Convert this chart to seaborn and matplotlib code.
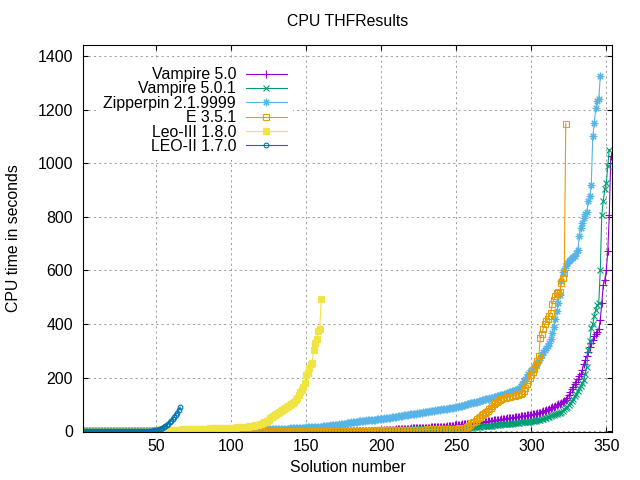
import numpy as np
import pandas as pd
import matplotlib
matplotlib.use("Agg")
import matplotlib.pyplot as plt
import seaborn as sns

# ---------------- data (sorted CPU times) ----------------
labels = ["Vampire 5.0", "Vampire 5.0.1", "Zipperpin 2.1.9999", "E 3.5.1",
          "Leo-III 1.8.0", "LEO-II 1.7.0"]

vampire50 = ([0.1] * 50 + [0.3] * 50 + [0.8] * 40 + [1.5] * 30 + [3] * 30 +
             [3, 3.5, 4, 4.5, 5, 5, 5.5, 6, 6.5, 7, 7, 7.5, 8, 8.5, 9, 9, 9.5, 10, 10, 10.5,
              11, 11, 11.5, 12, 12, 12.5, 13, 13, 13.5, 14, 14, 14, 14.5, 14.5, 15, 15, 15, 15.5, 15.5, 16] +
             [16, 17, 17, 18, 19, 20, 20, 21, 22, 23, 23, 24, 25, 26, 26, 27, 28, 29, 29, 30,
              30, 31, 31, 32, 32, 33] +
             [34, 35, 36, 36, 37, 38, 39, 40, 41, 41, 42, 43, 44, 45] +
             [46, 47, 47, 48, 49, 50, 51, 51, 52, 53, 54, 55, 56, 56, 57, 58, 59, 60, 61, 62] +
             [63, 64, 66, 67, 68, 70, 72, 74, 76, 78, 80, 83, 86, 89, 92, 95, 98, 101, 103, 105] +
             [108, 112, 118, 125, 135, 148, 157, 166, 175, 185, 195, 205, 212, 230, 250, 266,
              280, 297, 315, 330, 341, 355, 362, 372, 380, 416, 478, 547, 565, 600, 671, 808, 1026])

vampire501 = ([0.1] * 50 + [0.2] * 50 + [0.5] * 40 + [1] * 30 + [2] * 30 +
              [2.5, 2.7, 3, 3.2, 3.4, 3.6, 3.8, 4, 4.2, 4.4, 4.6, 4.8, 5, 5.2, 5.4, 5.6, 5.8, 6, 6.2, 6.4,
               6.6, 6.8, 7, 7.2, 7.4, 7.6, 7.8, 8, 8.2, 8.4, 8.6, 8.8, 9, 9.2, 9.4, 9.6, 9.8, 10, 10.2, 10.4,
               10.6, 10.8, 11, 11.2, 11.4, 11.6, 11.8, 12, 12.2, 12.4, 12.6, 12.8, 13, 13.2, 13.4, 13.6,
               13.8, 14, 14.2, 14.5] +
              [15, 15, 16, 16, 17, 17, 18, 18, 19, 19, 20, 20, 21, 21, 22, 23, 24, 24, 25, 26] +
              [26, 27, 27, 28, 28, 29, 29, 30, 30, 31, 31, 32, 33, 33, 34, 35, 35, 36, 36, 37] +
              [38, 39, 40, 41, 42, 43, 45, 47, 49, 51, 53, 55, 57, 59] +
              [61, 63, 66, 68, 70, 73, 77, 82, 87, 92, 98, 105, 112, 120, 130, 140, 150, 160, 170, 180,
               191, 215, 241, 303, 335, 385, 400, 430, 453, 470, 478, 603, 808, 860, 902, 927, 990, 1051])

zipperpin = ([0.1] * 30 + [0.4] * 30 + [1] * 20 + [2] * 20 +
             [3, 3, 3.2, 3.4, 3.6, 3.8, 4, 4.2, 4.4, 4.6, 4.8, 5, 5.2, 5.4, 5.6, 5.8, 6, 6.2, 6.4, 6.6,
              6.8, 7, 7.2, 7.3, 7.4, 7.5, 7.6, 7.7, 7.8, 7.9] +
             [8, 8.3, 8.6, 9, 9.3, 9.6, 10, 10.3, 10.6, 11, 11.3, 11.6, 12, 12.3, 12.6, 13, 13.3, 13.6,
              14, 14.3, 14.6, 15, 15.3, 15.6, 16, 16.3, 16.6, 17, 17.3, 17.6] +
             [18, 19, 19, 20, 21, 22, 22, 23, 24, 25, 25, 26, 27, 28, 29, 29, 30, 31, 32, 33,
              33, 34, 35, 36, 37, 37, 38, 39, 40, 41, 41, 42, 43, 43, 44, 44, 45, 45, 46, 46] +
             [47, 48, 49, 49, 50, 51, 52, 53, 54, 55, 56, 56, 57, 58, 59, 60, 61, 62, 63, 64,
              64, 65, 66, 67, 68, 69, 70, 71, 72, 73, 73, 74, 75, 76, 77, 78, 79, 80, 81, 82,
              82, 83, 84, 85, 86, 87, 87, 88, 89, 90] +
             [92, 93, 95, 96, 98, 99, 101, 102, 104, 105, 107, 108, 110, 111, 113, 114, 116, 117, 119, 120,
              122, 123, 125, 126, 128, 129, 131, 132, 134, 135] +
             [137, 139, 141, 143, 145, 147, 149, 151, 153, 154] +
             [155, 162, 170, 178, 186, 195, 204, 213, 222, 228, 234, 240, 246, 255, 265, 275, 285, 295,
              303, 312, 320, 330, 345, 365, 390, 420, 447, 480, 509, 560, 596, 603, 615, 628, 634, 640,
              645, 650, 655, 665, 677, 727, 760, 777, 795, 810, 818, 860, 877, 920, 1101, 1151, 1207,
              1232, 1238, 1325])

e351 = ([0.1] * 40 + [0.3] * 40 + [0.6] * 40 + [1.2] * 30 + [2] * 25 + [3] * 20 + [4] * 20 +
        [4.5, 4.6, 4.7, 4.8, 4.9, 5, 5.1, 5.2, 5.4, 5.6, 5.8, 6, 6.2, 6.4, 6.6, 6.8, 7, 7.1, 7.2, 7.3,
         7.4, 7.5, 7.6, 7.8, 8] +
        [8.2, 8.4, 8.6, 8.8, 9, 9.2, 9.4, 9.6, 9.8, 10, 10.3, 10.6, 10.9, 11.2, 11.5, 12] +
        [15, 20, 25, 30, 33, 35, 38, 45, 50, 55, 60, 64, 68, 72, 77, 82, 88, 95, 100, 104,
         108, 112, 116, 120, 123, 125, 126, 127, 128, 129, 130, 132, 133, 134, 136, 138, 140, 143, 150, 160,
         175, 190, 200, 210, 222, 232, 247, 262, 281, 349, 363, 382, 400, 410, 419, 430, 443, 475, 490, 505,
         517, 518, 520, 553, 570, 589, 1148])

leo3 = ([0.1] * 10 + [0.2] * 10 +
        [0.3, 0.3, 0.4, 0.4, 0.5, 0.5, 0.6, 0.6, 0.7, 0.7, 0.8, 0.8, 0.9, 0.9, 1.0, 1.0, 1.1, 1.2, 1.3, 1.4] +
        [1.5, 1.7, 1.9, 2.1, 2.3, 2.5, 2.7, 2.9, 3.1, 3.3, 3.5, 3.7, 3.9, 4.1, 4.3, 4.5, 4.7, 4.9, 5.1, 5.3] +
        [5.5, 5.7, 5.9, 6.1, 6.3, 6.5, 6.7, 6.9, 7.1, 7.3, 7.5, 7.7, 7.9, 8.1, 8.3, 8.5, 8.7, 8.9, 9.1, 9.3] +
        [9.5, 9.7, 9.9, 10.1, 10.3, 10.5, 10.7, 10.9, 11.1, 11.3, 11.5, 11.7, 11.9, 12.1, 12.3, 12.5,
         12.7, 12.9, 13.1, 13.3] +
        [13.5, 13.8, 14.1, 14.4, 14.7, 15, 15.5, 16, 16.5, 17, 17.5, 18, 19, 20, 21, 22, 23, 24, 26, 28] +
        [30, 33, 36, 40, 44, 48, 52, 56, 60, 64, 68, 72, 75, 78, 82, 86, 90, 94, 97, 100] +
        [106, 110, 118, 125, 135, 145, 155, 165, 180, 210, 218, 235, 250, 255, 305, 330, 345, 375, 380, 495])

leo2 = ([0.1] * 10 + [0.2] * 10 +
        [0.3, 0.3, 0.3, 0.3, 0.3, 0.4, 0.4, 0.4, 0.4, 0.4, 0.5, 0.5, 0.6, 0.6, 0.7, 0.7, 0.8, 0.9, 1.0, 1.1,
         1.2, 1.4, 1.6, 1.8, 2.0, 2.5, 3.0, 3.6, 4.2, 5.0,
         6.5, 8, 10, 12, 15, 19, 23, 28, 33, 39, 46, 54, 62, 70, 80, 90])

series = [vampire50, vampire501, zipperpin, e351, leo3, leo2]
colors = ["#9400d3", "#009e73", "#56b4e9", "#e69f00", "#f0e442", "#0072b2"]

# ---------------- style ----------------
plt.rcParams["font.family"] = ["Liberation Sans", "DejaVu Sans"]
FS = 11.4
styles = [
    dict(marker="+", markersize=5.2, markerfacecolor="none"),
    dict(marker="x", markersize=4.6, markerfacecolor="none"),
    dict(marker=(8, 2, 0), markersize=5.4, markerfacecolor="none"),
    dict(marker="s", markersize=4.6, markerfacecolor="none"),
    dict(marker="s", markersize=5.0),
    dict(marker="o", markersize=3.4, markerfacecolor="none"),
]

fig = plt.figure(figsize=(6.4, 4.8), dpi=100)
ax = fig.add_axes([0.1292, 0.1006, 0.8275, 0.8057])

for vals, lab, col, st in zip(series, labels, colors, styles):
    df = pd.DataFrame({"n": np.arange(1, len(vals) + 1), "t": vals})
    kw = dict(st)
    if "markerfacecolor" not in kw:
        kw["markerfacecolor"] = col
    sns.lineplot(data=df, x="n", y="t", ax=ax, color=col, linewidth=0.8,
                 markeredgecolor=col, markeredgewidth=0.8, label=lab,
                 errorbar=None, **kw)

ax.set_xlim(1, 354)
ax.set_ylim(-1.5, 1441)
ax.set_xticks(range(50, 351, 50))
ax.set_yticks(range(0, 1401, 200))
ax.grid(True, color="#a0a0a0", linestyle=(0, (2, 3)), linewidth=0.75)
ax.set_axisbelow(True)
for s in ax.spines.values():
    s.set_linewidth(0.8)
    s.set_color("black")
ax.tick_params(direction="in", length=3.6, width=0.8, top=True, right=True,
               labelsize=FS, colors="black")
ax.tick_params(axis="y", pad=7)
ax.tick_params(axis="x", pad=5)

ax.set_title("CPU THFResults", fontsize=FS, pad=14)
ax.set_xlabel("Solution number", fontsize=FS, labelpad=4.5)
ax.set_ylabel("CPU time in seconds", fontsize=FS, labelpad=12)

handles, labs = ax.get_legend_handles_labels()
leg = ax.legend(handles, labs, loc="upper right", bbox_to_anchor=(0.458, 0.8735),
                bbox_transform=fig.transFigure, markerfirst=False, frameon=True,
                fancybox=False, framealpha=1, facecolor="white", borderpad=0.4,
                labelspacing=-0.04, handlelength=2.6, handletextpad=0.6,
                borderaxespad=0, fontsize=FS, numpoints=1)
leg.get_frame().set_linewidth(0)

fig.savefig("out.png", dpi=100)
